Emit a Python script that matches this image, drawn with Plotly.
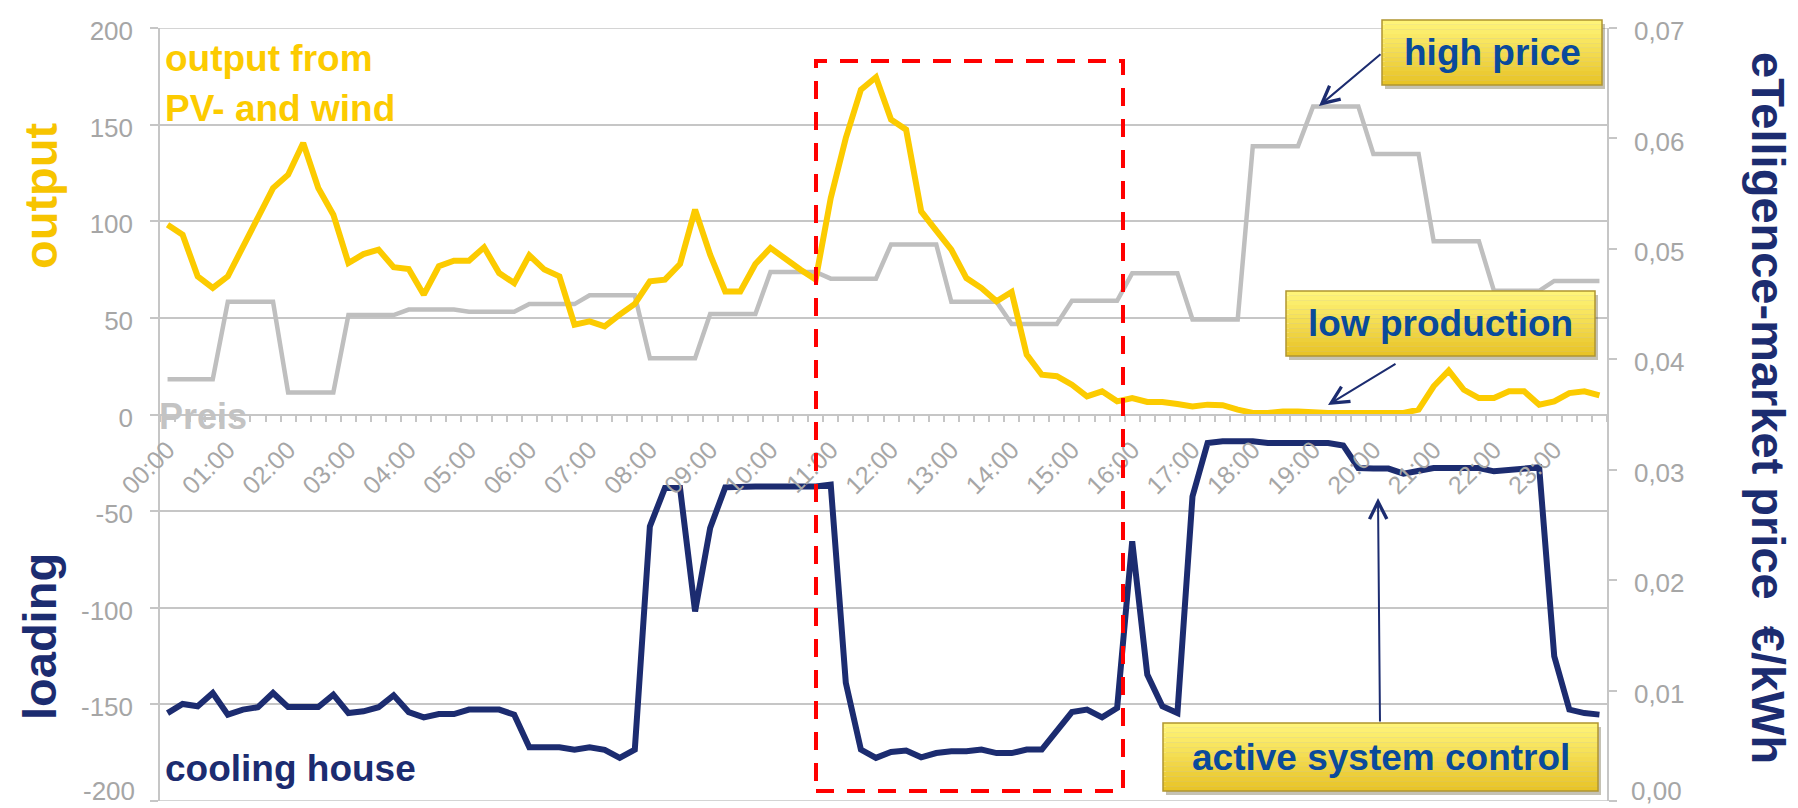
import plotly.graph_objects as go

# ---------------- data ----------------
TIMES = [f"{h:02d}:{m:02d}" for h in range(24) for m in (0, 15, 30, 45)]
HOUR_LABELS = ["00:00", "01:00", "02:00", "03:00", "04:00", "05:00", "06:00", "07:00",
               "08:00", "09:00", "10:00", "11:00", "12:00", "13:00", "14:00", "15:00",
               "16:00", "17:00", "18:00", "19:00", "20:00", "21:00", "22:00", "23:00"]

# output from PV and wind (left axis)
OUTPUT = [98.2, 93, 71.5, 65.5, 71.5, 86.7, 101.7, 117.2, 124.1, 140.5, 117.2, 103.4,
          78.4, 83, 85.3, 76.2, 75.3, 62, 76.7, 79.6, 79.6, 86.5, 73.2, 68,
          82.4, 75, 71.5, 46.5, 48.2, 45.6, 51.7, 57.2, 68.9, 69.8, 77.9, 106,
          82.7, 63.7, 63.7, 77.9, 86.2, 80.1, 74.9, 69.8, 112, 143.1, 168.1, 174.5,
          152.6, 147.4, 105.1, 95.1, 85.3, 70.6, 65.4, 58.6, 63.4, 31, 20.6, 19.8,
          15.4, 9.4, 12, 6.8, 8.5, 6.5, 6.5, 5.4, 4.2, 5.1, 4.8, 2.5,
          0.8, 0.8, 1.6, 1.6, 0.9, 0.8, 0.8, 0.8, 0.8, 0.8, 0.8, 2.5,
          14.6, 22.7, 12.8, 8.5, 8.5, 12, 12, 5.1, 6.8, 11.1, 12, 9.9]

# cooling house loading (left axis)
LOADING = [-154.5, -149.8, -151, -144.1, -155.3, -152.7, -151.5, -144.1, -151.4, -151.4, -151.4, -145,
           -154.5, -153.6, -151.5, -145.3, -154, -156.7, -155, -155, -152.7, -152.7, -152.7, -155.3,
           -172.2, -172.2, -172.2, -173.4, -172.2, -173.5, -177.7, -173.4, -57.9, -38, -38, -101.9,
           -58.7, -37.7, -37.2, -37.2, -37.2, -37.2, -37.2, -37.2, -36.3, -138.9, -173.4, -177.7,
           -174.6, -173.9, -177.4, -175.2, -174.3, -174.3, -173.4, -175.2, -175.2, -173.4, -173.4, -163.9,
           -154, -152.7, -156.7, -151.9, -65.6, -134.6, -151, -154.5, -42.4, -14.7, -13.9, -13.9,
           -13.9, -14.8, -14.8, -14.8, -14.8, -14.8, -16, -27.7, -28, -28, -30.6, -29.4,
           -27.7, -27.7, -27.7, -27.7, -29.4, -28.5, -27.7, -27.3, -125.1, -152.7, -154.5, -155.3]

# eTelligence market price EUR/kWh (right axis)
PRICE = [0.0382, 0.0382, 0.0382, 0.0382, 0.0452, 0.0452, 0.0452, 0.0452,
         0.0370, 0.0370, 0.0370, 0.0370, 0.0440, 0.0440, 0.0440, 0.0440,
         0.0445, 0.0445, 0.0445, 0.0445, 0.0443, 0.0443, 0.0443, 0.0443,
         0.0450, 0.0450, 0.0450, 0.0450, 0.0458, 0.0458, 0.0458, 0.0458,
         0.0401, 0.0401, 0.0401, 0.0401, 0.0441, 0.0441, 0.0441, 0.0441,
         0.0479, 0.0479, 0.0479, 0.0479, 0.0473, 0.0473, 0.0473, 0.0473,
         0.0504, 0.0504, 0.0504, 0.0504, 0.0452, 0.0452, 0.0452, 0.0452,
         0.0432, 0.0432, 0.0432, 0.0432, 0.0453, 0.0453, 0.0453, 0.0453,
         0.0478, 0.0478, 0.0478, 0.0478, 0.0436, 0.0436, 0.0436, 0.0436,
         0.0593, 0.0593, 0.0593, 0.0593, 0.0629, 0.0629, 0.0629, 0.0629,
         0.0586, 0.0586, 0.0586, 0.0586, 0.0507, 0.0507, 0.0507, 0.0507,
         0.0462, 0.0462, 0.0462, 0.0462, 0.0471, 0.0471, 0.0471, 0.0471]

LEFT_TICKS = [-200, -150, -100, -50, 0, 50, 100, 150, 200]
LEFT_TICK_TEXT = ["-200", "-150", "-100", "-50", "0", "50", "100", "150", "200"]
RIGHT_TICKS = [0.00, 0.01, 0.02, 0.03, 0.04, 0.05, 0.06, 0.07]
RIGHT_TICK_TEXT = ["0,00", "0,01", "0,02", "0,03", "0,04", "0,05", "0,06", "0,07"]

# ---------------- styling ----------------
FONT = "Liberation Sans, Arial, sans-serif"
YELLOW = "#fccb00"
GOLD_TITLE = "#f7c400"
NAVY = "#1c2c70"
BOX_TEXT = "#0a4a9b"
GRAY_LINE = "#bfbfbf"
GRID = "#c6c6c6"
TICK_TXT = "#a6a6a6"
TICK_SIZE = 26

W, H = 1798, 808
PL, PR, PT, PB = 152, 1599, 20, 793


def px(xp):
    return (xp - PL) / (PR - PL)


def py(yp):
    return 1 - (yp - PT) / (PB - PT)


DAY = "2024-01-01 "
X = [DAY + t for t in TIMES]

fig = go.Figure()
fig.add_trace(go.Scatter(x=X, y=PRICE, mode="lines", yaxis="y",
                         line=dict(color=GRAY_LINE, width=4.5), name="Preis"))
fig.add_trace(go.Scatter(x=X, y=OUTPUT, mode="lines", yaxis="y2",
                         line=dict(color=YELLOW, width=6), name="output"))
fig.add_trace(go.Scatter(x=X, y=LOADING, mode="lines", yaxis="y2",
                         line=dict(color=NAVY, width=6), name="loading"))

shapes = []
annotations = []

# grid lines on the range edges (plotly omits them there)
for v in (LEFT_TICKS[0], LEFT_TICKS[-1]):
    shapes.append(dict(type="line", xref="paper", yref="y2", x0=0, x1=1, y0=v, y1=v,
                       line=dict(color=GRID, width=1.5), layer="below"))

# the two lowest tick labels sit on the page edge: draw them as text nudged inside the page
annotations.append(dict(xref="paper", yref="paper", x=px(128), y=py(799), xanchor="right", yanchor="bottom",
                        text=LEFT_TICK_TEXT[0], showarrow=False, borderpad=0,
                        font=dict(family=FONT, size=TICK_SIZE, color=TICK_TXT)))
annotations.append(dict(xref="paper", yref="paper", x=px(1622), y=py(799), xanchor="left", yanchor="bottom",
                        text=RIGHT_TICK_TEXT[0], showarrow=False, borderpad=0,
                        font=dict(family=FONT, size=TICK_SIZE, color=TICK_TXT)))
left_axis_text = [" "] + LEFT_TICK_TEXT[1:]
right_axis_text = [" "] + RIGHT_TICK_TEXT[1:]


def callout(x0, y0, x1, y1, text):
    # shadow
    shapes.append(dict(type="rect", xref="paper", yref="paper",
                       x0=px(x0 + 3), x1=px(x1 + 3), y0=py(y1 + 4), y1=py(y0 + 4),
                       fillcolor="rgba(90,80,40,0.35)", line=dict(width=0), layer="above"))
    n = 14
    top = (255, 244, 120)
    bot = (232, 196, 40)
    for k in range(n):
        t = k / (n - 1)
        c = tuple(int(round(top[j] + (bot[j] - top[j]) * t)) for j in range(3))
        ya = y0 + (y1 - y0) * k / n
        yb = y0 + (y1 - y0) * (k + 1) / n
        shapes.append(dict(type="rect", xref="paper", yref="paper",
                           x0=px(x0), x1=px(x1), y0=py(yb), y1=py(ya),
                           fillcolor="rgb(%d,%d,%d)" % c, line=dict(width=0), layer="above"))
    shapes.append(dict(type="rect", xref="paper", yref="paper",
                       x0=px(x0), x1=px(x1), y0=py(y1), y1=py(y0),
                       line=dict(color="#b09530", width=1.5), layer="above"))
    annotations.append(dict(xref="paper", yref="paper", x=px((x0 + x1) / 2), y=py((y0 + y1) / 2),
                            text="<b>%s</b>" % text, showarrow=False, xanchor="center", yanchor="middle",
                            font=dict(family=FONT, size=37, color=BOX_TEXT)))


def arrow(hx, hy, tx, ty):
    annotations.append(dict(xref="paper", yref="paper", x=px(hx), y=py(hy),
                            ax=tx - hx, ay=ty - hy, axref="pixel", ayref="pixel",
                            text="", showarrow=True, arrowhead=5, arrowsize=1.7,
                            arrowwidth=2, arrowcolor=NAVY, standoff=0, startstandoff=0))


# red dashed highlight box
shapes.append(dict(type="rect", xref="paper", yref="paper",
                   x0=px(808), x1=px(1115), y0=py(783), y1=py(53),
                   line=dict(color="#ff0000", width=4, dash="18px,13px"), layer="above"))

callout(1374, 12, 1594, 77, "high price")
callout(1278, 283, 1587, 348, "low production")
callout(1155, 715, 1590, 783, "active system control")
arrow(1311, 98, 1374, 45)
arrow(1320, 397, 1389, 355)
arrow(1370, 490, 1372, 715)

# in-plot texts
annotations.append(dict(xref="paper", yref="paper", x=px(155), y=py(51), xanchor="left", yanchor="middle",
                        text="<b>output from</b>", showarrow=False,
                        font=dict(family=FONT, size=37, color=YELLOW)))
annotations.append(dict(xref="paper", yref="paper", x=px(155), y=py(101), xanchor="left", yanchor="middle",
                        text="<b>PV- and wind</b>", showarrow=False,
                        font=dict(family=FONT, size=37, color=YELLOW)))
annotations.append(dict(xref="paper", yref="paper", x=px(149), y=py(408), xanchor="left", yanchor="middle",
                        text="<b>Preis</b>", showarrow=False,
                        font=dict(family=FONT, size=36, color="#c3c3c3")))
annotations.append(dict(xref="paper", yref="paper", x=px(155), y=py(760), xanchor="left", yanchor="middle",
                        text="<b>cooling house</b>", showarrow=False,
                        font=dict(family=FONT, size=37, color=NAVY)))

# axis titles
annotations.append(dict(xref="paper", yref="paper", x=px(32), y=py(188), xanchor="center", yanchor="middle",
                        text="<b>output</b>", textangle=-90, showarrow=False,
                        font=dict(family=FONT, size=47, color=GOLD_TITLE)))
annotations.append(dict(xref="paper", yref="paper", x=px(31), y=py(629), xanchor="center", yanchor="middle",
                        text="<b>loading</b>", textangle=-90, showarrow=False,
                        font=dict(family=FONT, size=47, color=NAVY)))
annotations.append(dict(xref="paper", yref="paper", x=px(1761), y=py(400), xanchor="center", yanchor="middle",
                        text="<b>eTelligence-market price  €/kWh</b>", textangle=90, showarrow=False,
                        font=dict(family=FONT, size=47, color=NAVY)))

fig.update_layout(
    width=W, height=H,
    margin=dict(l=PL, r=W - PR, t=PT, b=H - PB, autoexpand=False),
    paper_bgcolor="white", plot_bgcolor="white",
    showlegend=False,
    font=dict(family=FONT),
    xaxis=dict(
        type="date", automargin=False,
        range=["2023-12-31 23:52:30", "2024-01-01 23:52:30"],
        anchor="free", position=0.5,
        showline=True, linecolor=GRID, linewidth=1.5,
        showgrid=False, zeroline=False,
        ticks="", tickmode="array",
        tickvals=[DAY + h for h in HOUR_LABELS], ticktext=HOUR_LABELS,
        tickangle=-45, ticklabelstandoff=10,
        tickfont=dict(family=FONT, size=25, color=TICK_TXT),
        minor=dict(ticks="outside", ticklen=7, tickwidth=1.5, tickcolor=GRID,
                   tickmode="linear", tick0="2023-12-31 23:52:30", dtick=900000, showgrid=False),
    ),
    yaxis=dict(
        range=[0, 0.07], side="right", automargin=False,
        showgrid=False, zeroline=False,
        showline=True, linecolor=GRID, linewidth=1.5,
        ticks="outside", ticklen=8, tickwidth=1.5, tickcolor=GRID,
        tickmode="array", tickvals=RIGHT_TICKS, ticktext=right_axis_text,
        ticklabelstandoff=12, ticklabelshift=3, ticklabeloverflow="allow",
        tickfont=dict(family=FONT, size=TICK_SIZE, color=TICK_TXT),
    ),
    yaxis2=dict(
        range=[-200, 200], side="left", overlaying="y", anchor="x", automargin=False,
        showgrid=True, gridcolor=GRID, gridwidth=1.5, zeroline=False,
        showline=True, linecolor=GRID, linewidth=1.5,
        ticks="outside", ticklen=8, tickwidth=1.5, tickcolor=GRID,
        tickmode="array", tickvals=LEFT_TICKS, ticktext=left_axis_text,
        ticklabelstandoff=12, ticklabelshift=3, ticklabeloverflow="allow",
        tickfont=dict(family=FONT, size=TICK_SIZE, color=TICK_TXT),
    ),
    shapes=shapes,
    annotations=annotations,
)

fig.write_html("out.html")
